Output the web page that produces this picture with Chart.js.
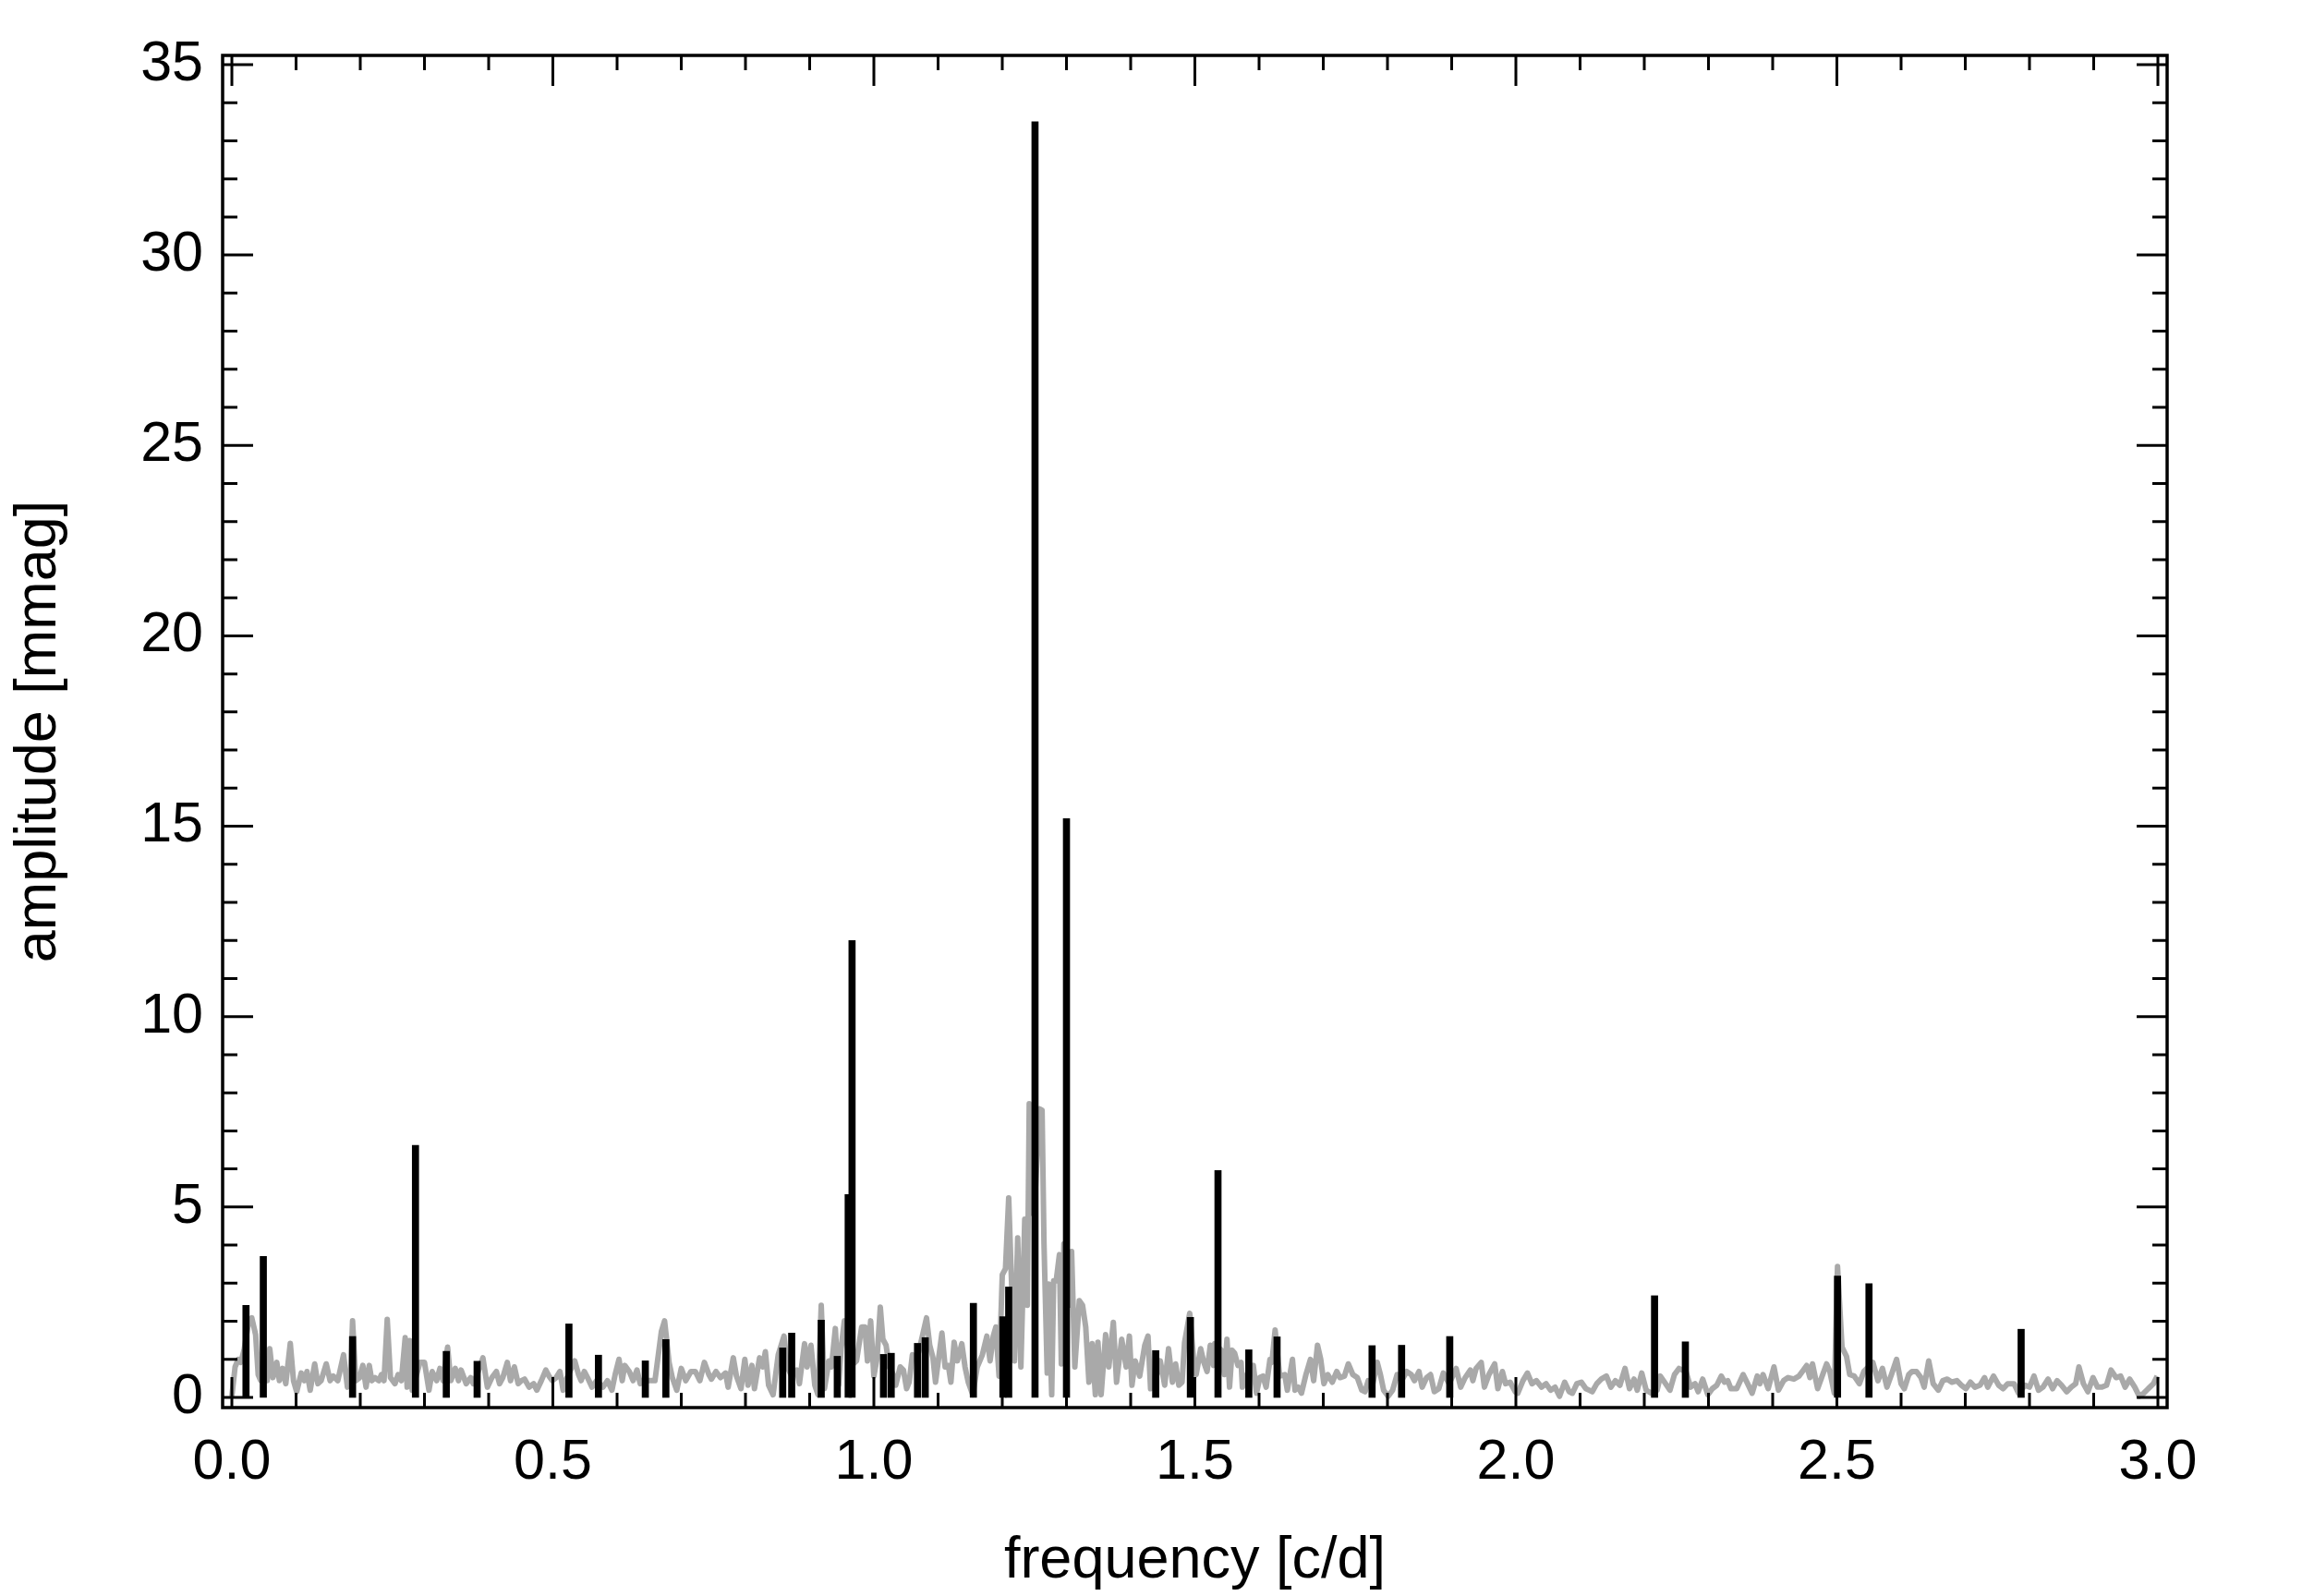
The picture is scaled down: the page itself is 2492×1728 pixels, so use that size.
<!DOCTYPE html>
<html>
<head>
<meta charset="utf-8">
<title>amplitude spectrum</title>
<script src="https://cdn.jsdelivr.net/npm/chart.js@4.4.0/dist/chart.umd.min.js"></script>
<style>
  html, body { margin: 0; padding: 0; background: #fff; }
  canvas { display: block; }
</style>
</head>
<body>
<canvas id="spectrum" width="2492" height="1728"></canvas>
<script>
// values

// extracted frequencies (black lines)
let peakFreq = [0.022, 0.049, 0.188, 0.286, 0.334, 0.382, 0.525, 0.571, 0.644, 0.676,
  0.858, 0.872, 0.918, 0.943, 0.960, 0.966, 1.015, 1.027, 1.068, 1.080,
  1.155, 1.201, 1.210, 1.251, 1.300, 1.439, 1.493, 1.536, 1.584, 1.628,
  1.776, 1.822, 1.897, 2.216, 2.264, 2.501, 2.550, 2.787];
let peakAmp = [2.42, 3.70, 1.60, 6.62, 1.21, 0.95, 1.93, 1.11, 0.96, 1.52,
  1.30, 1.69, 2.03, 1.08, 5.33, 12.0, 1.13, 1.16, 1.42, 1.57,
  2.47, 2.12, 2.90, 33.5, 15.2, 1.23, 2.10, 5.96, 1.25, 1.59,
  1.36, 1.37, 1.60, 2.67, 1.46, 3.19, 2.99, 1.79];

// periodogram of the data (grey line), one row of freq per row of amp
let noiseFreq = [
  0.000, 0.005, 0.010, 0.014, 0.019, 0.026, 0.031, 0.037, 0.041, 0.045,
  0.055, 0.059, 0.064, 0.070, 0.074, 0.079, 0.084, 0.091, 0.096, 0.101,
  0.108, 0.113, 0.117, 0.122, 0.129, 0.134, 0.139, 0.147, 0.153, 0.158,
  0.165, 0.174, 0.180, 0.185, 0.188, 0.193, 0.199, 0.204, 0.209, 0.214,
  0.218, 0.223, 0.229, 0.233, 0.237, 0.242, 0.247, 0.254, 0.259, 0.264,
  0.270, 0.273, 0.277, 0.281, 0.293, 0.300, 0.307, 0.312, 0.319, 0.324,
  0.329, 0.336, 0.341, 0.348, 0.353, 0.357, 0.365, 0.372, 0.376, 0.382,
  0.391, 0.398, 0.405, 0.412, 0.417, 0.422, 0.429, 0.434, 0.440, 0.446,
  0.451, 0.456, 0.463, 0.470, 0.475, 0.482, 0.489, 0.494, 0.499, 0.505,
  0.511, 0.516, 0.520, 0.534, 0.540, 0.544, 0.549, 0.554, 0.561, 0.568,
  0.578, 0.585, 0.592, 0.597, 0.603, 0.608, 0.612, 0.619, 0.625, 0.631,
  0.636, 0.640, 0.652, 0.659, 0.669, 0.674, 0.681, 0.686, 0.693, 0.700,
  0.707, 0.715, 0.722, 0.729, 0.736, 0.743,
  0.747, 0.754, 0.761, 0.769, 0.773, 0.781, 0.786, 0.793, 0.799, 0.804,
  0.810, 0.814, 0.822, 0.827, 0.831, 0.836, 0.843, 0.851, 0.860, 0.865,
  0.872, 0.880, 0.884, 0.892, 0.896, 0.902, 0.908, 0.913, 0.918, 0.923,
  0.930, 0.934, 0.940, 0.945, 0.949, 0.954, 0.963, 0.973, 0.981, 0.986,
  0.990, 0.995, 1.000, 1.005, 1.010, 1.014, 1.019, 1.024, 1.029, 1.034,
  1.041, 1.046, 1.051, 1.055, 1.060, 1.065, 1.070, 1.082, 1.087, 1.092,
  1.096, 1.106, 1.111, 1.116, 1.120, 1.125, 1.130, 1.137, 1.142, 1.147,
  1.154, 1.161, 1.169, 1.176, 1.181, 1.186, 1.190, 1.195, 1.200, 1.205,
  1.210, 1.214, 1.219, 1.224, 1.229, 1.235, 1.239, 1.242, 1.246, 1.251,
  1.258, 1.262, 1.265, 1.270, 1.272, 1.277, 1.280, 1.284, 1.289, 1.292,
  1.296, 1.304, 1.308, 1.313, 1.320, 1.325, 1.330, 1.335, 1.340, 1.345,
  1.349, 1.354, 1.361, 1.366, 1.373, 1.378, 1.386, 1.393, 1.398, 1.402,
  1.407, 1.414, 1.422, 1.427, 1.431, 1.439, 1.446, 1.453, 1.459, 1.465,
  1.470, 1.475, 1.480, 1.484, 1.492, 1.499,
  1.502, 1.509, 1.514, 1.519, 1.524, 1.529, 1.531, 1.541, 1.546, 1.550,
  1.554, 1.558, 1.562, 1.567, 1.572, 1.574, 1.583, 1.591, 1.596, 1.601,
  1.606, 1.611, 1.617, 1.620, 1.625, 1.632, 1.640, 1.644, 1.652, 1.656,
  1.661, 1.666, 1.673, 1.680, 1.685, 1.691, 1.696, 1.701, 1.707, 1.714,
  1.721, 1.726, 1.733, 1.739, 1.746, 1.753, 1.760, 1.765, 1.770, 1.776,
  1.784, 1.789, 1.794, 1.801, 1.808, 1.815, 1.822, 1.830, 1.837, 1.842,
  1.849, 1.854, 1.861, 1.867, 1.873, 1.880, 1.887, 1.896, 1.907, 1.914,
  1.921, 1.929, 1.933, 1.938, 1.946, 1.951, 1.958, 1.967, 1.972, 1.979,
  1.984, 1.991, 1.999, 2.003, 2.011, 2.018, 2.025, 2.032, 2.040, 2.047,
  2.054, 2.061, 2.068, 2.076, 2.083, 2.088, 2.095, 2.102, 2.109, 2.114,
  2.119, 2.126, 2.133, 2.141, 2.148, 2.155, 2.162, 2.170, 2.177, 2.184,
  2.189, 2.196, 2.203, 2.211, 2.220, 2.225, 2.230, 2.240, 2.247, 2.254,
  2.265, 2.272, 2.279, 2.284, 2.291, 2.299, 2.306, 2.313, 2.320, 2.325,
  2.330, 2.335, 2.344, 2.354, 2.361, 2.368, 2.376, 2.380, 2.385, 2.393,
  2.402, 2.409, 2.417, 2.424, 2.433, 2.441, 2.448, 2.453, 2.458, 2.462,
  2.470, 2.477, 2.484, 2.489, 2.496, 2.501, 2.508, 2.515, 2.520, 2.527,
  2.535, 2.542, 2.556, 2.564, 2.571, 2.578, 2.585, 2.593, 2.600, 2.605,
  2.612, 2.617, 2.624, 2.631, 2.636, 2.643, 2.650, 2.658, 2.665, 2.672,
  2.679, 2.687, 2.694, 2.701, 2.708, 2.715, 2.723, 2.730, 2.735, 2.744,
  2.752, 2.759, 2.766, 2.776, 2.783, 2.793, 2.800, 2.807, 2.814, 2.821,
  2.829, 2.836, 2.843, 2.850, 2.858, 2.865, 2.872, 2.877, 2.884, 2.891,
  2.899, 2.906, 2.913, 2.920, 2.927, 2.935, 2.942, 2.949, 2.956, 2.964,
  2.971, 2.978, 2.985, 2.993, 2.999
];
let noiseAmp = [
  0.03, 0.80, 1.00, 0.92, 1.24, 1.97, 2.09, 1.65, 0.60, 0.44,
  0.44, 1.28, 0.52, 0.92, 0.44, 0.76, 0.36, 1.42, 0.44, 0.15,
  0.64, 0.44, 0.68, 0.19, 0.88, 0.36, 0.44, 0.88, 0.44, 0.56,
  0.44, 1.12, 0.27, 0.60, 2.01, 0.44, 0.52, 0.84, 0.27, 0.84,
  0.44, 0.52, 0.44, 0.60, 0.44, 2.05, 0.52, 0.36, 0.60, 0.44,
  1.57, 0.27, 1.49, 0.19, 0.92, 0.92, 0.19, 0.68, 0.44, 0.76,
  0.44, 1.32, 0.44, 0.76, 0.44, 0.72, 0.36, 0.52, 0.36, 0.60,
  1.04, 0.27, 0.52, 0.68, 0.36, 0.52, 0.92, 0.44, 0.80, 0.36,
  0.44, 0.48, 0.27, 0.36, 0.19, 0.44, 0.72, 0.56, 0.44, 0.52,
  0.68, 0.19, 0.44, 0.96, 0.60, 0.44, 0.68, 0.52, 0.27, 0.44,
  0.27, 0.44, 0.19, 0.60, 1.00, 0.44, 0.84, 0.68, 0.44, 0.72,
  0.36, 0.44, 0.44, 0.44, 1.73, 2.01, 0.92, 0.52, 0.19, 0.76,
  0.44, 0.68, 0.68, 0.44, 0.92, 0.60,
  0.48, 0.68, 0.52, 0.64, 0.27, 1.04, 0.56, 0.23, 1.00, 0.32,
  0.84, 0.23, 1.04, 0.80, 1.20, 0.32, 0.07, 1.12, 1.61, 0.80,
  0.56, 0.72, 0.36, 1.41, 0.80, 1.37, 0.32, 0.07, 2.42, 0.23,
  0.96, 0.80, 1.81, 0.32, 1.28, 2.01, 0.80, 0.96, 1.85, 1.85,
  0.96, 2.01, 0.56, 1.04, 2.37, 1.53, 1.37, 0.80, 0.64, 0.32,
  0.80, 0.72, 0.23, 0.40, 1.12, 1.04, 1.20, 2.09, 1.37, 1.04,
  0.40, 1.69, 0.80, 0.84, 0.40, 1.45, 0.96, 1.41, 0.80, 0.40,
  0.07, 0.80, 1.12, 1.61, 0.96, 1.61, 1.85, 0.56, 3.22, 3.38,
  5.24, 3.22, 0.96, 4.19, 0.80, 4.68, 2.42, 7.71, 4.84, 5.24,
  7.58, 7.54, 4.03, 0.64, 2.98, 0.07, 3.06, 3.06, 3.75, 0.88,
  4.03, 2.42, 3.83, 0.80, 2.54, 2.42, 1.85, 0.40, 1.41, 0.07,
  1.45, 0.07, 1.65, 0.80, 1.97, 0.40, 1.53, 0.80, 1.61, 0.32,
  0.96, 0.56, 1.37, 1.61, 0.23, 0.48, 0.96, 0.32, 1.28, 0.40,
  0.88, 0.32, 0.40, 1.45, 2.21, 0.80,
  0.60, 1.28, 0.92, 0.68, 1.37, 0.84, 1.41, 1.24, 0.60, 1.53,
  0.27, 1.24, 1.16, 0.84, 0.92, 0.27, 0.68, 0.84, 0.11, 0.52,
  0.56, 0.27, 1.00, 0.92, 1.77, 0.56, 0.60, 0.19, 1.00, 0.19,
  0.27, 0.11, 0.60, 1.00, 0.44, 1.37, 1.00, 0.36, 0.60, 0.40,
  0.68, 0.52, 0.56, 0.88, 0.60, 0.52, 0.19, 0.15, 0.44, 0.27,
  0.92, 0.60, 0.19, 0.03, 0.19, 0.60, 0.44, 0.68, 0.60, 0.44,
  0.68, 0.27, 0.52, 0.60, 0.15, 0.23, 0.64, 0.36, 0.76, 0.27,
  0.52, 0.72, 0.44, 0.76, 0.92, 0.27, 0.60, 0.88, 0.23, 0.68,
  0.36, 0.40, 0.15, 0.11, 0.44, 0.64, 0.36, 0.44, 0.27, 0.36,
  0.19, 0.27, 0.03, 0.40, 0.15, 0.11, 0.36, 0.40, 0.23, 0.19,
  0.15, 0.36, 0.48, 0.56, 0.27, 0.44, 0.32, 0.76, 0.23, 0.48,
  0.19, 0.64, 0.19, 0.11, 0.19, 0.56, 0.44, 0.19, 0.60, 0.76,
  0.68, 0.27, 0.36, 0.15, 0.48, 0.07, 0.23, 0.32, 0.56, 0.40,
  0.44, 0.23, 0.23, 0.60, 0.36, 0.11, 0.56, 0.36, 0.60, 0.23,
  0.80, 0.19, 0.44, 0.52, 0.48, 0.56, 0.72, 0.84, 0.52, 0.88,
  0.23, 0.56, 0.88, 0.68, 0.11, 3.44, 1.32, 1.08, 0.60, 0.56,
  0.36, 0.68, 0.92, 0.44, 0.76, 0.27, 0.60, 1.00, 0.36, 0.23,
  0.60, 0.68, 0.68, 0.52, 0.27, 0.96, 0.36, 0.19, 0.44, 0.48,
  0.40, 0.44, 0.32, 0.23, 0.40, 0.27, 0.32, 0.52, 0.27, 0.56,
  0.32, 0.23, 0.36, 0.36, 0.11, 0.32, 0.27, 0.56, 0.19, 0.27,
  0.48, 0.23, 0.44, 0.32, 0.15, 0.27, 0.36, 0.80, 0.36, 0.15,
  0.52, 0.27, 0.27, 0.32, 0.72, 0.52, 0.56, 0.27, 0.48, 0.27,
  0.03, 0.11, 0.23, 0.36, 0.56
];

// tick labels
let xTicks = [0, 0.5, 1, 1.5, 2, 2.5, 3];
let yTicks = [0, 5, 10, 15, 20, 25, 30, 35];

let fontFamily = "'Liberation Sans', Helvetica, Arial, sans-serif";

// box round the plot with inward ticks on all four sides
const frameTicks = {
  id: "frameTicks",
  afterDatasetsDraw(chart) {
    const ctx = chart.ctx;
    const area = chart.chartArea;
    const xs = chart.scales.x;
    const ys = chart.scales.y;
    ctx.save();
    ctx.strokeStyle = "black";
    ctx.lineWidth = 3;
    ctx.beginPath();
    for (let i = 0; i <= 30; i++) {
      let px = xs.getPixelForValue(i / 10);
      let len = i % 5 === 0 ? 33 : 16;
      ctx.moveTo(px, area.bottom);
      ctx.lineTo(px, area.bottom - len);
      ctx.moveTo(px, area.top);
      ctx.lineTo(px, area.top + len);
    }
    for (let j = 0; j <= 35; j++) {
      let py = ys.getPixelForValue(j);
      let len = j % 5 === 0 ? 33 : 16;
      ctx.moveTo(area.left, py);
      ctx.lineTo(area.left + len, py);
      ctx.moveTo(area.right, py);
      ctx.lineTo(area.right - len, py);
    }
    ctx.stroke();
    ctx.lineWidth = 3.5;
    ctx.strokeRect(area.left, area.top, area.right - area.left, area.bottom - area.top);
    ctx.restore();
  },
};

const data = {
  datasets: [
    {
      type: "bar",
      label: "frequencies",
      data: peakFreq.map((f, i) => ({ x: f, y: peakAmp[i] })),
      backgroundColor: "black",
      borderWidth: 0,
      barThickness: 7,
      order: 0,
    },
    {
      type: "line",
      label: "spectrum",
      data: noiseFreq.map((f, i) => ({ x: f, y: noiseAmp[i] })),
      borderColor: "#a9a9a9",
      borderWidth: 6,
      borderJoinStyle: "round",
      pointRadius: 0,
      tension: 0,
      order: 1,
    },
  ],
};

const config = {
  type: "bar",
  data: data,
  options: {
    responsive: false,
    animation: false,
    devicePixelRatio: 1,
    layout: { padding: { left: 0, top: 60, right: 146, bottom: 0 } },
    plugins: { legend: { display: false }, tooltip: { enabled: false } },
    scales: {
      x: {
        type: "linear",
        min: -0.0144,
        max: 3.0144,
        offset: false,
        grid: { display: false, drawTicks: false },
        border: { display: false },
        afterBuildTicks: (s) => { s.ticks = xTicks.map((v) => ({ value: v })); },
        afterFit: (s) => { s.height = 204; },
        ticks: {
          padding: 24,
          color: "black",
          maxRotation: 0,
          autoSkip: false,
          font: { family: fontFamily, size: 61 },
          callback: (v) => Number(v).toFixed(1),
        },
        title: {
          display: true,
          text: "frequency [c/d]",
          color: "black",
          font: { family: fontFamily, size: 63 },
          padding: { top: 0, bottom: 0 },
        },
      },
      y: {
        type: "linear",
        min: -0.267,
        max: 35.242,
        grid: { display: false, drawTicks: false },
        border: { display: false },
        afterBuildTicks: (s) => { s.ticks = yTicks.map((v) => ({ value: v })); },
        afterFit: (s) => { s.width = 241; },
        ticks: {
          padding: 21,
          color: "black",
          autoSkip: false,
          font: { family: fontFamily, size: 61 },
          callback: (v) => String(v),
        },
        title: {
          display: true,
          text: "amplitude [mmag]",
          color: "black",
          font: { family: fontFamily, size: 63 },
          padding: { top: 5, bottom: 0 },
        },
      },
    },
  },
  plugins: [frameTicks],
};

let canvasChart = document.getElementById("spectrum").getContext("2d");
const spectrumChart = new Chart(canvasChart, config);
</script>
</body>
</html>
